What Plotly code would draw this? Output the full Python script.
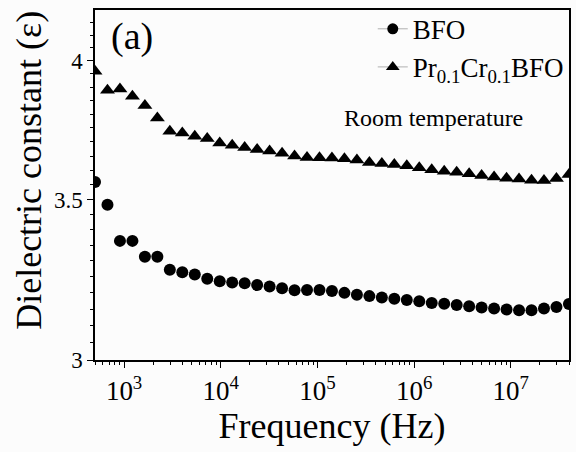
import plotly.graph_objects as go

# Frequencies (Hz), log-spaced sweep
freq = [500, 673, 906, 1219, 1641, 2208, 2972, 4000, 5383, 7245,
        9751, 13124, 17663, 23773, 31995, 43062, 57956, 78001, 104979, 141290,
        190160, 255933, 344457, 463600, 623953, 839767, 1130226, 1521148, 2047291, 2755424,
        3708479, 4991180, 6717531, 9041000, 12168000, 16377000, 22041000, 29665000, 39926000]

bfo = [3.560, 3.483, 3.364, 3.364, 3.313, 3.313, 3.272, 3.264, 3.257, 3.244,
       3.236, 3.232, 3.230, 3.224, 3.220, 3.214, 3.208, 3.209, 3.209, 3.206,
       3.200, 3.194, 3.190, 3.186, 3.182, 3.178, 3.174, 3.169, 3.167, 3.163,
       3.159, 3.155, 3.152, 3.149, 3.147, 3.147, 3.152, 3.157, 3.166]

prcr_bfo = [3.960, 3.888, 3.893, 3.866, 3.832, 3.786, 3.738, 3.732, 3.720, 3.712,
            3.696, 3.688, 3.680, 3.673, 3.668, 3.660, 3.650, 3.645, 3.644, 3.643,
            3.640, 3.636, 3.627, 3.624, 3.620, 3.616, 3.609, 3.602, 3.597, 3.593,
            3.588, 3.582, 3.577, 3.573, 3.570, 3.566, 3.565, 3.572, 3.586]

series_names = ["BFO", "Pr<sub>0.1</sub>Cr<sub>0.1</sub>BFO"]

x_tickvals = [1e3, 1e4, 1e5, 1e6, 1e7]
x_ticktext = ["10<sup>3</sup>", "10<sup>4</sup>", "10<sup>5</sup>", "10<sup>6</sup>", "10<sup>7</sup>"]
y_tickvals = [3, 3.5, 4]
y_ticktext = ["3", "3.5", "4"]

x_minor = [k * 10 ** n for n in range(2, 8) for k in range(2, 10) if 500 <= k * 10 ** n <= 4e7]
y_minor = [round(3 + 0.05 * i, 2) for i in range(1, 24) if i not in (10, 20)]

FONT = "Liberation Serif"

fig = go.Figure()

fig.add_trace(go.Scatter(x=freq, y=bfo, mode="markers",
                         marker=dict(symbol="circle", size=12, color="black"),
                         showlegend=False))
fig.add_trace(go.Scatter(x=freq, y=prcr_bfo, mode="markers",
                         marker=dict(symbol="triangle-up", size=13, color="black"),
                         showlegend=False))
# legend entries (line + symbol style)
fig.add_trace(go.Scatter(x=[None], y=[None], mode="lines+markers", name=series_names[0],
                         line=dict(color="#b0b0b0", width=1),
                         marker=dict(symbol="circle", size=11, color="black")))
fig.add_trace(go.Scatter(x=[None], y=[None], mode="lines+markers", name=series_names[1],
                         line=dict(color="#b0b0b0", width=1),
                         marker=dict(symbol="triangle-up", size=12, color="black")))

fig.update_layout(
    width=576, height=452,
    margin=dict(l=95, r=5, t=9, b=92),
    paper_bgcolor="#fcfcfc", plot_bgcolor="#fcfcfc",
    font=dict(family=FONT, color="black"),
    legend=dict(x=0.586, y=1.015, xanchor="left", yanchor="top",
                bgcolor="rgba(0,0,0,0)", font=dict(size=27, family=FONT),
                tracegroupgap=0, itemwidth=30),
    xaxis=dict(type="log", range=[2.69897, 7.60206],
               showline=True, linecolor="black", linewidth=1.5, mirror=True,
               showgrid=False, zeroline=False,
               ticks="outside", ticklen=6, tickwidth=1.2, tickcolor="black",
               tickmode="array", tickvals=x_tickvals, ticktext=x_ticktext,
               tickfont=dict(size=27, family=FONT),
               minor=dict(tickmode="array", tickvals=x_minor, ticks="outside",
                          ticklen=3, tickwidth=1, tickcolor="black", showgrid=False),
               title=dict(text="Frequency (Hz)", font=dict(size=36, family=FONT), standoff=6)),
    yaxis=dict(type="log", range=[0.4771213, 0.6232493],
               showline=True, linecolor="black", linewidth=1.5, mirror=True,
               showgrid=False, zeroline=False,
               ticks="outside", ticklen=6, tickwidth=1.2, tickcolor="black",
               tickmode="array", tickvals=y_tickvals, ticktext=y_ticktext,
               tickfont=dict(size=23, family=FONT),
               minor=dict(tickmode="array", tickvals=y_minor, ticks="outside",
                          ticklen=3, tickwidth=1, tickcolor="black", showgrid=False)),
    annotations=[
        dict(text="Dielectric constant (ε)", textangle=-90, xref="paper", yref="paper",
             x=(28 - 95) / 476, y=(360 - 170) / 351, xanchor="center", yanchor="middle",
             showarrow=False, font=dict(size=36, family=FONT)),
        dict(text="(a)", xref="paper", yref="paper", x=(132 - 95) / 476, y=(360 - 36) / 351,
             xanchor="center", yanchor="middle", showarrow=False, font=dict(size=38, family=FONT)),
        dict(text="Room temperature", xref="paper", yref="paper", x=(343 - 95) / 476,
             y=(360 - 117) / 351, xanchor="left", yanchor="middle", showarrow=False,
             font=dict(size=24, family=FONT)),
    ],
)

fig.write_html("out.html", config={"displayModeBar": False},
               post_script="document.body.style.margin='0';document.body.style.overflow='hidden';")
